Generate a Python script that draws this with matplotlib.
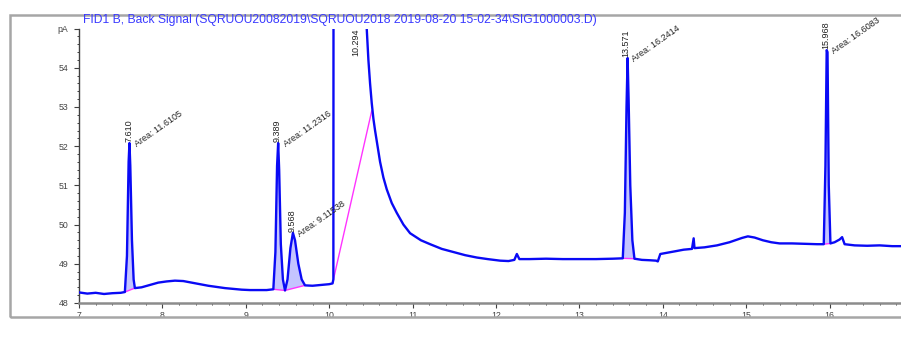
import matplotlib
matplotlib.use('Agg')
import matplotlib.pyplot as plt
import matplotlib.patches as patches
from matplotlib.ticker import MultipleLocator
import numpy as np

plt.rcParams['font.family'] = ['Liberation Sans', 'DejaVu Sans']

TITLE = "FID1 B, Back Signal (SQRUOU20082019\\SQRUOU2018 2019-08-20 15-02-34\\SIG1000003.D)"

# signal (min, pA)
trace_t = [7.00, 7.10, 7.20, 7.30, 7.40, 7.50, 7.55, 7.575, 7.595, 7.605, 7.615, 7.635, 7.655, 7.67,
           7.75, 7.85, 7.95, 8.05, 8.15, 8.25, 8.35, 8.45, 8.55, 8.65, 8.75, 8.85, 8.95, 9.05, 9.15, 9.25,
           9.33, 9.355, 9.375, 9.388, 9.40, 9.42, 9.445, 9.47, 9.50, 9.535, 9.565, 9.59, 9.63, 9.67, 9.71,
           9.80, 9.90, 10.00, 10.04, 10.05, 10.055, 10.42, 10.445, 10.47, 10.49, 10.51, 10.53, 10.55, 10.58,
           10.61, 10.65, 10.69, 10.75, 10.81, 10.89, 10.97, 11.10, 11.21, 11.35, 11.49, 11.63, 11.77, 11.90,
           12.05, 12.15, 12.22, 12.25, 12.28, 12.40, 12.60, 12.80, 13.00, 13.20, 13.40, 13.52, 13.545, 13.565,
           13.578, 13.59, 13.61, 13.635, 13.66, 13.75, 13.85, 13.92, 13.94, 13.97, 14.05, 14.15, 14.25, 14.35,
           14.37, 14.38, 14.50, 14.65, 14.80, 14.95, 15.02, 15.10, 15.20, 15.30, 15.40, 15.55, 15.70, 15.85,
           15.93, 15.95, 15.965, 15.975, 15.99, 16.01, 16.06, 16.12, 16.15, 16.18, 16.30, 16.45, 16.60,
           16.75, 16.90]
trace_v = [48.27, 48.24, 48.26, 48.23, 48.25, 48.26, 48.28, 49.2, 51.6, 52.08, 51.5, 49.6, 48.6, 48.38,
           48.40, 48.46, 48.52, 48.55, 48.57, 48.56, 48.52, 48.48, 48.44, 48.41, 48.38, 48.36, 48.34, 48.33,
           48.33, 48.33, 48.35, 49.3, 51.5, 52.08, 51.4, 49.5, 48.6, 48.32, 48.6, 49.4, 49.79, 49.6, 49.0,
           48.6, 48.45, 48.44, 48.46, 48.48, 48.50, 48.6, 70.0, 70.0, 55.2, 54.2, 53.6, 53.1, 52.7, 52.4,
           52.0, 51.6, 51.2, 50.9, 50.55, 50.3, 50.0, 49.78, 49.6, 49.5, 49.38, 49.3, 49.22, 49.16, 49.12,
           49.08, 49.07, 49.10, 49.25, 49.12, 49.12, 49.13, 49.12, 49.12, 49.12, 49.13, 49.14, 50.3, 53.0,
           54.25, 53.2, 51.0, 49.6, 49.13, 49.10, 49.09, 49.08, 49.06, 49.25, 49.28, 49.32, 49.36, 49.38,
           49.65, 49.40, 49.42, 49.47, 49.55, 49.66, 49.70, 49.67, 49.60, 49.55, 49.52, 49.52, 49.51, 49.50,
           49.50, 51.5, 54.45, 54.4, 51.0, 49.52, 49.55, 49.62, 49.68, 49.50, 49.47, 49.46, 49.47, 49.45,
           49.45]

# integrated peaks
peak_rt = [7.610, 9.389, 9.568, 10.294, 13.571, 15.968]
peak_top = [52.08, 52.08, 49.79, 70.0, 54.25, 54.45]
peak_area = [11.6105, 11.2316, 9.11538, None, 16.2414, 16.6083]
base_start_t = [7.55, 9.33, 9.47, 10.04, 13.52, 15.93]
base_start_v = [48.28, 48.35, 48.32, 48.50, 49.14, 49.50]
base_end_t = [7.67, 9.47, 9.71, 10.51, 13.66, 16.01]
base_end_v = [48.38, 48.32, 48.45, 52.9, 49.13, 49.52]
peak_filled = [True, True, True, False, True, True]

fig = plt.figure(figsize=(9.01, 3.40), dpi=100)
ax = fig.add_axes([79/901, 37/340, 822/901, 274.4/340])

t = np.array(trace_t)
v = np.array(trace_v)

for i in range(len(peak_rt)):
	if peak_filled[i]:
		inside = (t > base_start_t[i]) & (t < base_end_t[i])
		xs = [base_start_t[i]] + list(t[inside]) + [base_end_t[i]]
		ys = [base_start_v[i]] + list(v[inside]) + [base_end_v[i]]
		ax.fill(xs, ys, color="#c4c4ff", lw=0, zorder=1)
	ax.plot([base_start_t[i], base_end_t[i]], [base_start_v[i], base_end_v[i]],
			color="#ff33ff", lw=1, zorder=2)

ax.plot(t, v, color="#0a0af5", lw=1.7, zorder=3)

lab_kw = dict(fontsize=6.5, color="#222222", clip_on=False, zorder=5)
for i in range(len(peak_rt)):
	top = min(peak_top[i], 55)
	if peak_top[i] > 55:
		ax.text(peak_rt[i] + 0.02, 55, "%.3f" % peak_rt[i], rotation=90, ha="center", va="top", **lab_kw)
	else:
		ax.text(peak_rt[i] - 0.01, top + 0.03, "%.3f" % peak_rt[i], rotation=90, ha="center", va="bottom", **lab_kw)
	if peak_area[i] is not None:
		ax.text(peak_rt[i] + 0.07, top - 0.05, "Area: %g" % peak_area[i], rotation=35,
				rotation_mode="anchor", ha="left", va="center", **lab_kw)

ax.set_xlim(7, 7 + 822/83.4)
ax.set_ylim(48, 55)
ax.xaxis.set_major_locator(MultipleLocator(1))
ax.xaxis.set_minor_locator(MultipleLocator(0.2))
ax.yaxis.set_minor_locator(MultipleLocator(0.2))
ax.set_yticks(range(48, 56))
ax.set_yticklabels([str(k) for k in range(48, 55)] + ["pA"])

for s in ["top", "right"]:
	ax.spines[s].set_visible(False)
ax.spines["left"].set_color("#404040")
ax.spines["left"].set_linewidth(1.0)
ax.spines["bottom"].set_color("#8c8c8c")
ax.spines["bottom"].set_linewidth(1.8)
ax.tick_params(which="major", direction="out", length=3.5, width=0.8, color="#404040",
			   labelsize=6.3, labelcolor="#444444", pad=2)
ax.tick_params(axis="y", which="major", pad=4)
ax.tick_params(which="minor", direction="out", length=1.6, width=0.7, color="#404040")
ax.patch.set_visible(False)

fig.text(83/901, 1 - 19.5/340, TITLE, fontsize=8.7, color="#3a3aff", ha="left", va="center")

frame = patches.Rectangle((10/901, 23/340), 1.0, 302/340, transform=fig.transFigure,
						  fill=False, edgecolor="#a6a6a6", lw=1.8, zorder=0)
fig.patches.append(frame)

fig.savefig("out.png", dpi=100)
